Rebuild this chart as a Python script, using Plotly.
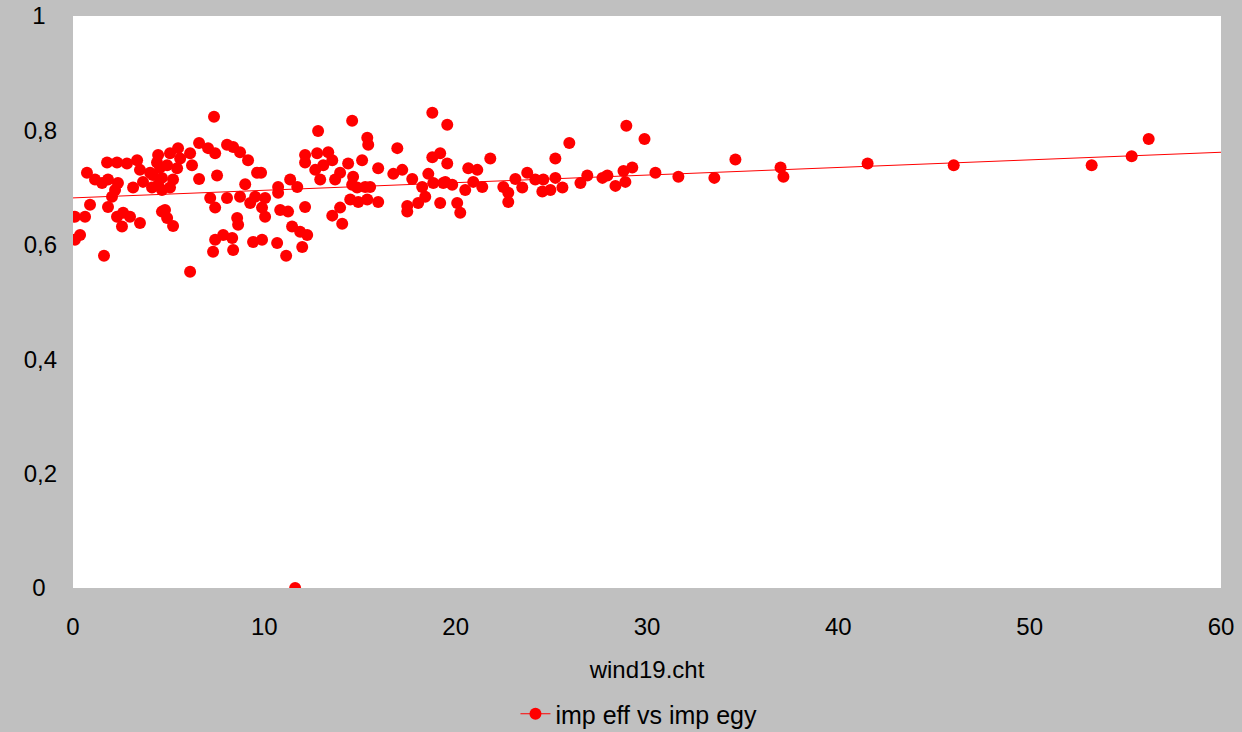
import plotly.graph_objects as go

# imp egy (x) vs imp eff (y), wind19.cht
imp_egy = [
    0.10, 0.10, 0.37, 0.63, 0.73, 0.89, 1.15, 1.52, 1.62, 1.78,
    1.83, 1.83, 2.04, 2.20, 2.30, 2.35, 2.30, 2.62, 2.56, 2.82,
    2.98, 3.14, 3.35, 3.50, 3.50, 3.66, 4.03, 4.13, 4.45, 4.55,
    4.65, 4.65, 4.81, 5.07, 5.49, 4.92, 5.44, 4.18, 4.65, 5.23,
    4.45, 5.07, 5.60, 4.92, 5.23, 4.39,
    7.37, 6.12, 6.12, 6.22, 6.59, 7.06, 7.43, 8.05, 8.37, 8.73,
    9.15, 7.53, 6.59, 9.00, 7.17, 7.43, 8.05, 8.73, 9.26, 8.58,
    8.63, 7.85, 7.43, 8.32, 7.32, 8.37, 9.41, 9.62, 9.52, 9.88,
    10.04, 9.88, 9.83, 10.04,
    10.72, 10.72, 11.35, 11.72, 12.13, 10.83, 11.24, 11.45, 11.87, 12.24,
    10.67, 11.98, 11.14, 11.61, 12.81, 14.59, 12.13, 12.13, 12.76, 13.34,
    13.55, 13.08, 12.66, 12.92, 13.70, 13.96, 14.38, 14.64, 15.11, 15.38,
    15.43, 14.59, 14.85, 14.49, 14.91, 15.38, 15.53, 15.95, 15.27, 13.96,
    13.55, 14.07,
    15.95, 16.74, 16.95, 17.21, 17.73, 17.47, 17.47, 18.04, 18.41, 18.25,
    18.57, 18.83, 19.35, 18.78, 19.19, 19.56, 18.78, 19.56, 19.19, 19.46,
    19.82, 20.50, 20.92, 21.39, 20.66, 21.13, 21.81, 20.08, 20.24, 22.49,
    22.75, 22.75, 23.12, 23.48, 23.74, 24.16, 24.53, 24.58,
    24.95, 25.21, 25.21, 25.58, 25.94, 26.52, 26.88, 27.67, 27.93, 28.35,
    28.87, 28.77, 28.92, 29.23, 29.87, 30.44, 31.64, 33.52, 34.62, 36.98,
    37.13, 41.53, 46.03, 53.24, 55.33, 56.22,
]
imp_eff = [
    0.649, 0.609, 0.617, 0.649, 0.726, 0.670, 0.714, 0.708, 0.581, 0.744,
    0.714, 0.666, 0.684, 0.696, 0.744, 0.708, 0.649, 0.656, 0.632, 0.742,
    0.649, 0.700, 0.748, 0.731, 0.638, 0.710, 0.726, 0.700, 0.757, 0.735,
    0.696, 0.658, 0.661, 0.760, 0.769, 0.739, 0.734, 0.722, 0.717, 0.714,
    0.705, 0.700, 0.751, 0.647, 0.633, 0.744,
    0.824, 0.553, 0.760, 0.739, 0.778, 0.769, 0.760, 0.775, 0.771, 0.762,
    0.748, 0.721, 0.715, 0.706, 0.682, 0.665, 0.682, 0.684, 0.673, 0.647,
    0.635, 0.617, 0.609, 0.612, 0.588, 0.591, 0.605, 0.726, 0.684, 0.665,
    0.649, 0.609, 0.726, 0.682,
    0.701, 0.691, 0.714, 0.701, 0.666, 0.661, 0.658, 0.632, 0.623, 0.617,
    0.603, 0.596, 0.581, 0.000, 0.799, 0.817, 0.757, 0.744, 0.760, 0.762,
    0.748, 0.739, 0.731, 0.714, 0.714, 0.726, 0.742, 0.719, 0.748, 0.787,
    0.775, 0.705, 0.700, 0.679, 0.675, 0.679, 0.701, 0.675, 0.701, 0.665,
    0.651, 0.637,
    0.734, 0.724, 0.769, 0.731, 0.715, 0.668, 0.658, 0.673, 0.684, 0.701,
    0.724, 0.708, 0.708, 0.753, 0.760, 0.742, 0.831, 0.810, 0.673, 0.710,
    0.705, 0.696, 0.710, 0.701, 0.734, 0.731, 0.751, 0.673, 0.656, 0.701,
    0.691, 0.675, 0.715, 0.700, 0.726, 0.714, 0.693, 0.714,
    0.696, 0.717, 0.751, 0.700, 0.778, 0.708, 0.721, 0.717, 0.721, 0.703,
    0.710, 0.729, 0.808, 0.735, 0.785, 0.726, 0.719, 0.717, 0.749, 0.735,
    0.719, 0.742, 0.739, 0.739, 0.755, 0.785,
]

# linear trend line
trend_intercept = 0.682
trend_slope = 0.00133
trend_x = [0, 60]

series_name = "imp eff vs imp egy"
x_title = "wind19.cht"
x_ticks = [0, 10, 20, 30, 40, 50, 60]
y_ticks = [0, 0.2, 0.4, 0.6, 0.8, 1]
# short labels padded so every label sits centred in the same column
y_tick_text = ["0\u00a0\u2009", "0,2", "0,4", "0,6", "0,8", "1\u00a0\u2009"]

RED = "#FF0000"
FONT = "Liberation Sans, Arial, sans-serif"

fig = go.Figure()

fig.add_trace(go.Scatter(
    x=trend_x,
    y=[trend_intercept + trend_slope * v for v in trend_x],
    mode="lines",
    line=dict(color=RED, width=1),
    showlegend=False,
    hoverinfo="skip",
))

fig.add_trace(go.Scatter(
    x=imp_egy, y=imp_eff,
    mode="markers",
    marker=dict(color=RED, size=12, line=dict(width=0)),
    showlegend=False,
))

# legend entry: line with marker
fig.add_trace(go.Scatter(
    x=[None], y=[None],
    mode="lines+markers",
    name=series_name,
    line=dict(color=RED, width=1),
    marker=dict(color=RED, size=12),
))

fig.update_layout(
    width=1242, height=732,
    paper_bgcolor="#C0C0C0",
    plot_bgcolor="#FFFFFF",
    margin=dict(l=73, r=21, t=16, b=144, autoexpand=False),
    font=dict(family=FONT, size=24, color="#000000"),
    showlegend=True,
    legend=dict(
        orientation="h",
        x=0.493, xanchor="center", xref="paper",
        y=(732 - 714) / 732, yanchor="middle", yref="container",
        bgcolor="rgba(0,0,0,0)",
        font=dict(size=25),
        itemwidth=30,
    ),
    xaxis=dict(
        range=[0, 60],
        tickvals=x_ticks,
        showgrid=False, zeroline=False, showline=False,
        ticks="",
        automargin=False,
        ticklabelstandoff=22,
        title=dict(text=x_title, standoff=22, font=dict(size=24)),
    ),
    yaxis=dict(
        range=[0, 1],
        tickvals=y_ticks,
        ticktext=y_tick_text,
        showgrid=False, zeroline=False, showline=False,
        ticks="",
        automargin=False,
        ticklabelstandoff=15,
    ),
)

fig.write_html("out.html")
